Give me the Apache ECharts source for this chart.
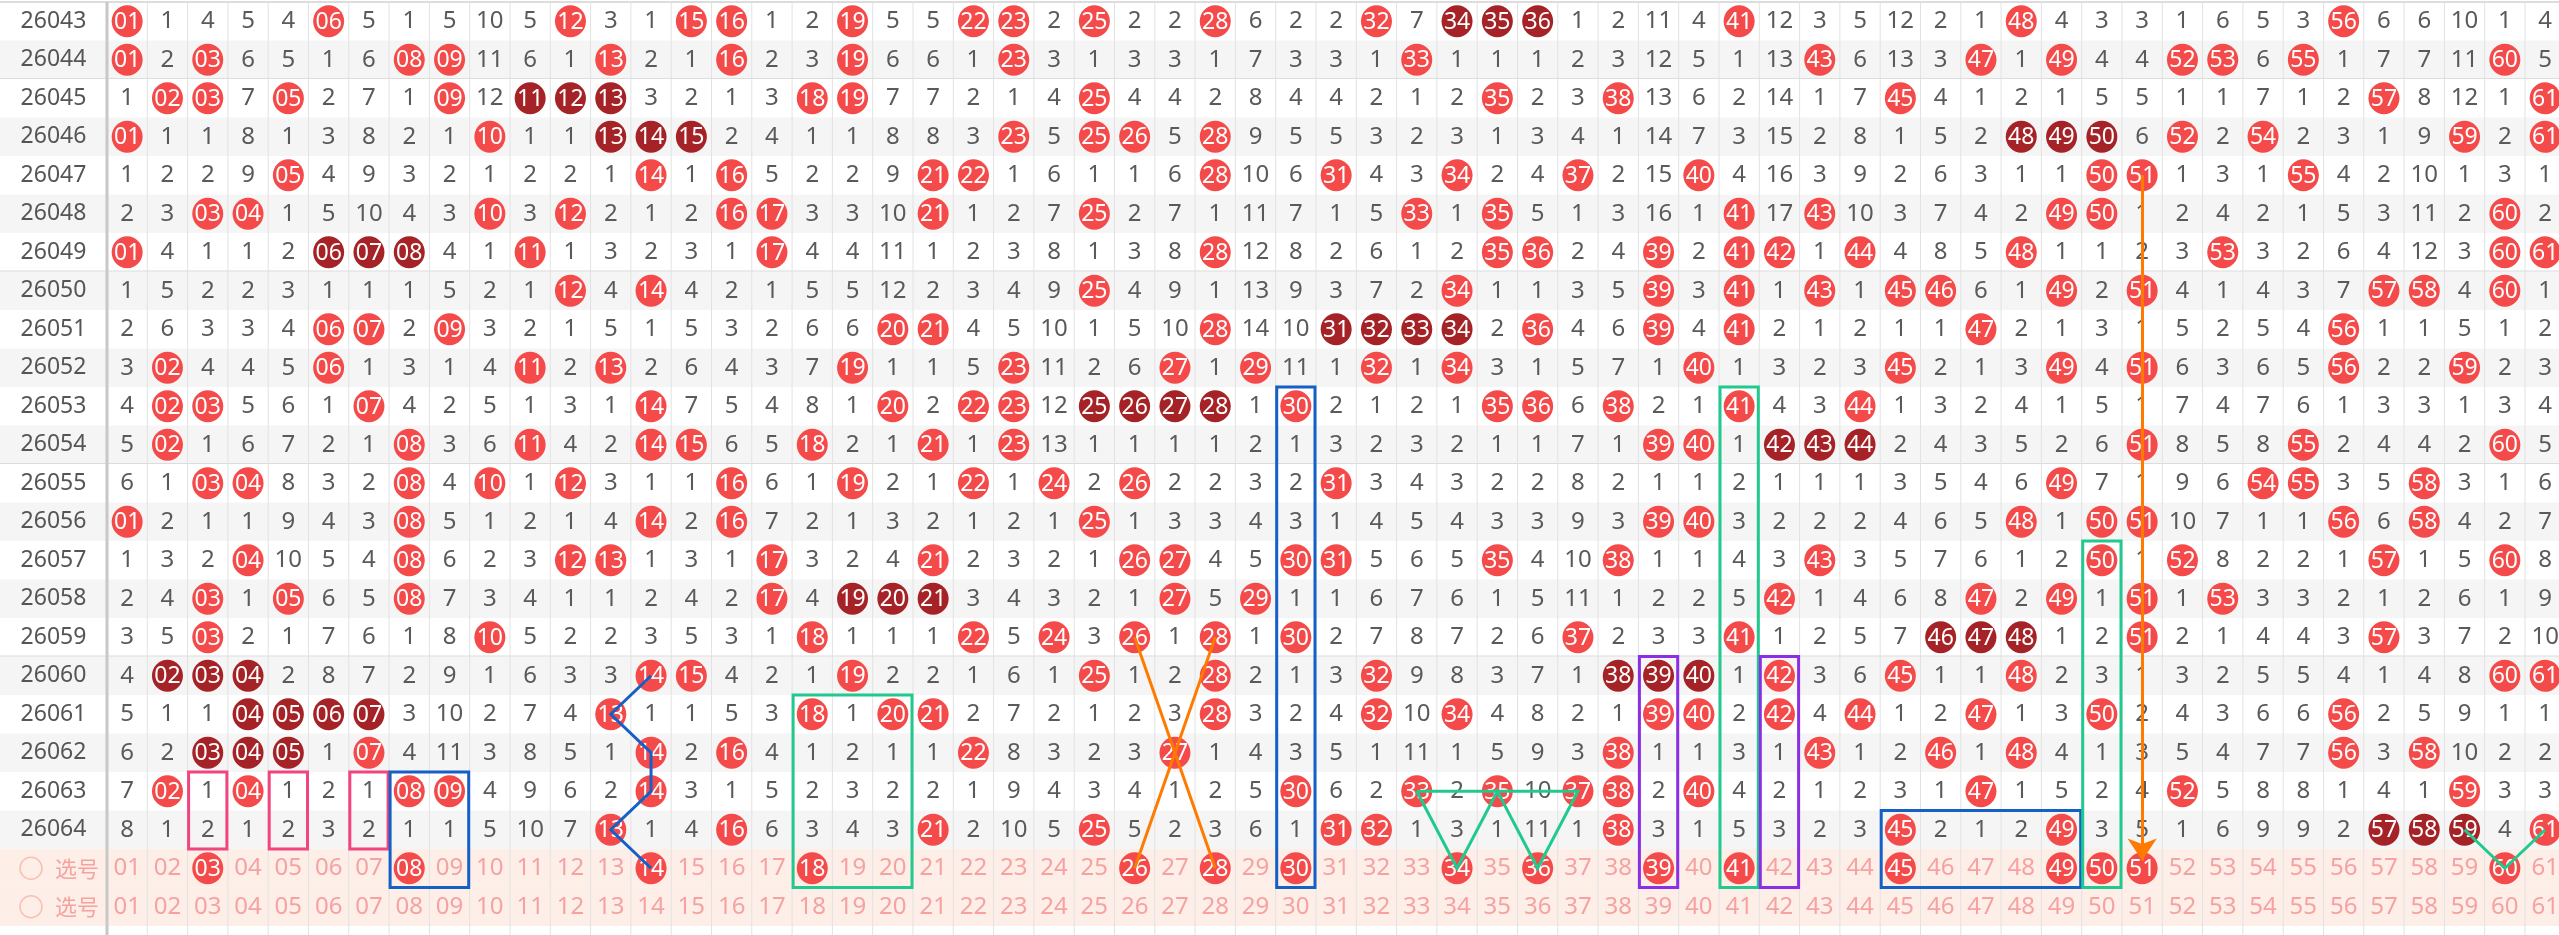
<!DOCTYPE html>
<html>
<head>
<meta charset="utf-8">
<script src="https://cdn.jsdelivr.net/npm/echarts@6/dist/echarts.min.js"></script>
<style>
  html, body { margin: 0; padding: 0; background: #fff; }
  #chart { width: 2559px; height: 935px; }
</style>
</head>
<body>
<div id="chart"></div>
<script>
// 期号
var issues = ['26043','26044','26045','26046','26047','26048','26049','26050','26051','26052','26053',
              '26054','26055','26056','26057','26058','26059','26060','26061','26062','26063','26064'];

// 第一期(26043)各号码遗漏值，0 = 开出
var firstOmit = [0,1,4,5,4,0,5,1,5,10,5,0,3,1,0,0,1,2,0,5,5,0,0,2,0,2,2,0,6,2,2,0,7,0,0,0,1,2,11,4,
                 0,12,3,5,12,2,1,0,4,3,3,1,6,5,3,0,6,6,10,1,4];

// 每期开出号码(01-61 可见部分)
var hits = [
    [1,6,12,15,16,19,22,23,25,28,32,34,35,36,41,48,56],
    [1,3,8,9,13,16,19,23,33,43,47,49,52,53,55,60],
    [2,3,5,9,11,12,13,18,19,25,35,38,45,57,61],
    [1,10,13,14,15,23,25,26,28,48,49,50,52,54,59,61],
    [5,14,16,21,22,28,31,34,37,40,50,51,55],
    [3,4,10,12,16,17,21,25,33,35,41,43,49,50,60],
    [1,6,7,8,11,17,28,35,36,39,41,42,44,48,53,60,61],
    [12,14,25,34,39,41,43,45,46,49,51,57,58,60],
    [6,7,9,20,21,28,31,32,33,34,36,39,41,47,56],
    [2,6,11,13,19,23,27,29,32,34,40,45,49,51,56,59],
    [2,3,7,14,20,22,23,25,26,27,28,30,35,36,38,41,44],
    [2,8,11,14,15,18,21,23,39,40,42,43,44,51,55,60],
    [3,4,8,10,12,16,19,22,24,26,31,49,54,55,58],
    [1,8,14,16,25,39,40,48,50,51,56,58],
    [4,8,12,13,17,21,26,27,30,31,35,38,43,50,52,57,60],
    [3,5,8,17,19,20,21,27,29,42,47,49,51,53],
    [3,10,18,22,24,26,28,30,37,41,46,47,48,51,57],
    [2,3,4,14,15,19,25,28,32,38,39,40,42,45,48,60,61],
    [4,5,6,7,13,18,20,21,28,32,34,39,40,42,44,47,50,56],
    [3,4,5,7,14,16,22,27,38,43,46,48,56,58],
    [2,4,8,9,14,30,33,35,37,38,40,47,52,59],
    [13,16,21,25,31,32,38,45,49,57,58,59,61]
];

// 选号行圈选号码
var picked = [3,8,14,18,26,28,30,34,36,39,41,45,49,50,51,60];

// 辅助图形: 方框 [起列, 止列, 起行, 止行, 颜色]
var boxes = [
    [3, 3, 20, 21, '#f2457e'],
    [5, 5, 20, 21, '#f2457e'],
    [7, 7, 20, 21, '#f2457e'],
    [8, 9, 20, 22, '#1560c6'],
    [18, 20, 18, 22, '#22c98e'],
    [30, 30, 10, 22, '#1560c6'],
    [39, 39, 17, 22, '#8b2ee6'],
    [41, 41, 10, 22, '#22c98e'],
    [42, 42, 17, 22, '#8b2ee6'],
    [45, 49, 21, 22, '#1560c6'],
    [50, 50, 14, 22, '#22c98e']
];
// 折线 [[列, 行], ...]
var polys = [
    {c: '#1560c6', p: [[14,17],[13,18],[14,19],[14,20],[13,21],[14,22]]},
    {c: '#ff7a00', p: [[26,16],[28,22]]},
    {c: '#ff7a00', p: [[28,16],[26,22]]},
    {c: '#22c98e', p: [[33,20],[34,22],[35,20],[36,22],[37,20],[33,20]]},
    {c: '#22c98e', p: [[59,21],[60,22],[61,21]]}
];

var COLW = 40.3, LABELW = 107, NROW = 24;
var xMin = 0.5 - LABELW / COLW;
var xMax = 0.5 + (2559 - LABELW) / COLW;

// 计算遗漏
var cells = [];
var omit = firstOmit.slice();
hits.forEach(function(h, r) {
    for (var c = 1; c <= 61; c++) {
        var hit = h.indexOf(c) >= 0;
        if (r > 0) omit[c - 1] = hit ? 0 : omit[c - 1] + 1;
        var dark = false;
        if (hit) {
            var s = c, e = c;
            while (h.indexOf(s - 1) >= 0) s--;
            while (h.indexOf(e + 1) >= 0) e++;
            dark = e - s >= 2;
        }
        cells.push([c, r, hit ? c : omit[c - 1], hit ? (dark ? 2 : 1) : 0]);
    }
});
for (var c = 1; c <= 61; c++) {
    cells.push([c, 22, c, picked.indexOf(c) >= 0 ? 3 : 4]);
    cells.push([c, 23, c, 4]);
}
function pad(n) { return (n < 10 ? '0' : '') + n; }

var FONT = '"Liberation Sans Narrow", "Noto Sans", sans-serif';

var chart = echarts.init(document.getElementById('chart'));
chart.setOption({
    animation: false,
    grid: { left: 0, right: 0, top: 2, height: NROW * 38.5 },
    xAxis: { type: 'value', min: xMin, max: xMax, show: false },
    yAxis: { type: 'value', min: 0, max: NROW, inverse: true, show: false },
    series: [
        // 行背景
        {
            type: 'custom', z: 1, silent: true,
            data: issues.map(function(d, i) { return [i]; }).concat([[22], [23]]),
            renderItem: function(params, api) {
                var r = api.value(0), cs = params.coordSys;
                var y0 = api.coord([0, r])[1], y1 = api.coord([0, r + 1])[1];
                var fill = r >= 22 ? '#fdeee8' : (r % 2 === 1 ? '#f5f5f5' : '#ffffff');
                var children = [{ type: 'rect', shape: { x: cs.x, y: y0, width: cs.width, height: y1 - y0 }, style: { fill: fill } }];
                if (r === 1 || r === 6 || r === 11 || r === 16 || r === 0) {
                    var yy = r === 0 ? y0 : y1;
                    children.push({ type: 'line', shape: { x1: cs.x, y1: yy, x2: cs.x + cs.width, y2: yy }, style: { stroke: '#dcdcdc', lineWidth: 2 } });
                }
                return { type: 'group', children: children };
            }
        },
        // 竖线
        {
            type: 'custom', z: 2, silent: true,
            data: Array.from({ length: 62 }, function(v, i) { return [i + 0.5]; }),
            renderItem: function(params, api) {
                var cs = params.coordSys, x = api.coord([api.value(0), 0])[0];
                var w = api.value(0) === 0.5 ? 3 : 1;
                return { type: 'line', shape: { x1: x, y1: cs.y, x2: x, y2: cs.y + cs.height + 20 }, style: { stroke: w > 1 ? '#c8c8c8' : '#e2e2e2', lineWidth: w } };
            }
        },
        // 期号 / 选号 标签
        {
            type: 'custom', z: 3, silent: true,
            data: issues.map(function(d, i) { return [i, d]; }).concat([[22, '选号'], [23, '选号']]),
            renderItem: function(params, api) {
                var r = api.value(0), p = api.coord([(xMin + 0.5) / 2, r + 0.5]);
                if (r < 22) {
                    return { type: 'text', style: { text: issues[r], x: p[0], y: p[1], align: 'center', verticalAlign: 'middle', font: '23px ' + FONT, fill: '#555' } };
                }
                return { type: 'group', children: [
                    { type: 'circle', shape: { cx: 31, cy: p[1], r: 11 }, style: { fill: 'none', stroke: '#f8c0b0', lineWidth: 1.5 } },
                    { type: 'text', style: { text: '选号', x: 77, y: p[1], align: 'center', verticalAlign: 'middle', font: '22px "Noto Sans CJK SC"', fill: '#f5a3a0' } }
                ] };
            }
        },
        // 号码格
        {
            type: 'custom', z: 3, silent: true,
            data: cells,
            renderItem: function(params, api) {
                var c = api.value(0), r = api.value(1), v = api.value(2), t = api.value(3);
                var p = api.coord([c, r + 0.5]);
                if (t === 0) {
                    return { type: 'text', style: { text: String(v), x: p[0], y: p[1], align: 'center', verticalAlign: 'middle', font: '24px ' + FONT, fill: '#5a5a5a' } };
                }
                if (t === 4) {
                    return { type: 'text', style: { text: pad(v), x: p[0], y: p[1], align: 'center', verticalAlign: 'middle', font: '24px ' + FONT, fill: '#f6a2a2' } };
                }
                return { type: 'group', children: [
                    { type: 'ellipse', shape: { cx: p[0], cy: p[1], rx: 15.5, ry: 16 }, style: { fill: t === 2 ? '#a52327' : '#f54a4a' } },
                    { type: 'text', style: { text: pad(v), x: p[0], y: p[1] + 1, align: 'center', verticalAlign: 'middle', font: '23px ' + FONT, fill: '#fff' } }
                ] };
            }
        },
        // 方框
        {
            type: 'custom', z: 4, silent: true,
            data: boxes.map(function(b, i) { return [i]; }),
            renderItem: function(params, api) {
                var b = boxes[api.value(0)];
                var p0 = api.coord([b[0] - 0.5, b[2]]), p1 = api.coord([b[1] + 0.5, b[3] + 1]);
                return { type: 'rect', shape: { x: p0[0] + 1, y: p0[1], width: p1[0] - p0[0] - 2, height: p1[1] - p0[1] }, style: { fill: 'none', stroke: b[4], lineWidth: 3 } };
            }
        },
        // 折线
        {
            type: 'custom', z: 4, silent: true,
            data: polys.map(function(p, i) { return [i]; }),
            renderItem: function(params, api) {
                var pl = polys[api.value(0)];
                var pts = pl.p.map(function(q) { return api.coord([q[0], q[1] + 0.5]); });
                return { type: 'polyline', shape: { points: pts }, style: { fill: 'none', stroke: pl.c, lineWidth: 3 } };
            }
        },
        // 箭头
        {
            type: 'lines', coordinateSystem: 'cartesian2d', z: 5, silent: true,
            symbol: ['none', 'arrow'], symbolSize: [16, 22],
            lineStyle: { color: '#ff7a00', width: 3, opacity: 1 },
            data: [{ coords: [[51, 4.5], [51, 22.3]] }]
        }
    ]
});
</script>
</body>
</html>
